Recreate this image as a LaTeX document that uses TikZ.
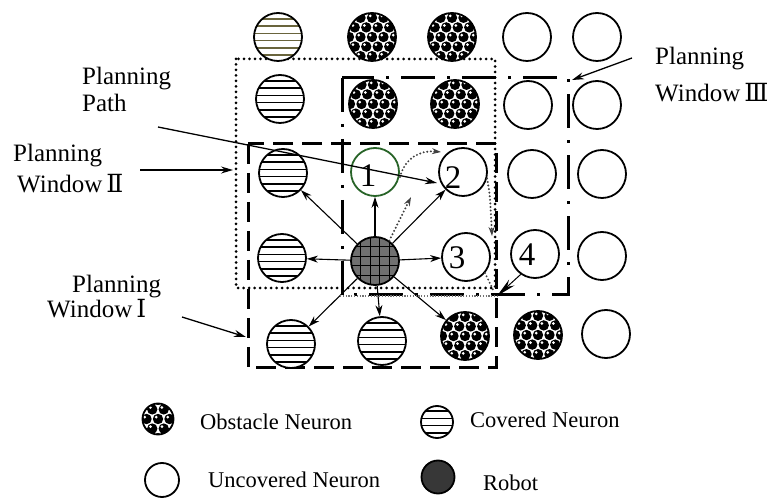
\documentclass[tikz,border=0pt]{standalone}
\usepackage{fontspec}
\setmainfont{Liberation Serif}
\newfontfamily\rnfont{DejaVu Serif}
\usetikzlibrary{arrows.meta}
\definecolor{olivestripe}{RGB}{105,100,60}
\definecolor{robotgray}{RGB}{112,112,112}
\definecolor{legendrobot}{RGB}{55,55,55}
\definecolor{onegreen}{RGB}{40,100,40}
\begin{document}
\begin{tikzpicture}[x=1pt,y=-1pt,
  neuron/.style={circle,draw=black,line width=1.8pt,minimum size=48pt,inner sep=0pt,fill=white},
  uncovered/.style={neuron},
  covered/.style={neuron,path picture={\begin{scope}[shift={(path picture bounding box.center)}]
     \foreach \d in {-18.2,-10.9,-3.6,3.6,10.9,18.2} \draw[line width=1.7pt,draw=#1] (-30,\d) -- (30,\d);
     \end{scope}}},
  covered/.default=black,
  obstacle/.style={neuron,path picture={\begin{scope}[shift={(path picture bounding box.center)}]
     \foreach \j in {-3,...,3}{\foreach \i in {-3,...,3}{
        \pgfmathsetmacro\xx{\i*11.5+mod(abs(\j),2)*5.75}
        \pgfmathsetmacro\yy{\j*9.6}
        \fill[black] (\xx,\yy) circle (5.2pt);
        \fill[white] (\xx-1.8,\yy-1.9) circle (1.5pt);}}
     \end{scope}}},
  robot/.style={neuron,fill=robotgray,path picture={\begin{scope}[shift={(path picture bounding box.center)}]
     \foreach \d in {-14.4,-4.8,4.8,14.4}{\draw[line width=0.9pt] (\d,-30) -- (\d,30); \draw[line width=0.9pt] (-30,\d) -- (30,\d);}
     \end{scope}}},
  digit/.style={font=\fontsize{33}{33}\selectfont,inner sep=0pt},
  lbltext/.style={font=\fontsize{25}{25}\selectfont,inner sep=0pt,anchor=base west},
  legtext/.style={font=\fontsize{22.5}{22.5}\selectfont,inner sep=0pt,anchor=base west},
  winI/.style={line width=3pt,dash pattern=on 20pt off 9pt},
  winII/.style={line width=3pt,dash pattern=on 0pt off 5.5pt,line cap=round},
  winIII/.style={line width=3pt,dash pattern=on 34pt off 12pt on 3pt off 12pt},
  arr/.style={line width=1.1pt,-{Stealth[length=11pt,width=7pt,inset=3.5pt]}},
  lbl/.style={line width=1.3pt,-{Stealth[length=12pt,width=7pt,inset=4pt]}},
  pathdot/.style={line width=2.2pt,dash pattern=on 0pt off 3.6pt,line cap=round,draw=black!75},
  pathtip/.style={-{Stealth[length=9pt,width=6pt]}},
  densedot/.style={line width=2.8pt,dash pattern=on 1.2pt off 1.6pt,draw=black!55}
]
\useasboundingbox (0,0) rectangle (782,502);

% planning windows
\draw[winII] (236,59) rectangle (495,288);
\draw[winI] (248,144) rectangle (496,368);
\draw[winIII] (342,78) rectangle (568,295);

% grid of neurons
\node[covered=olivestripe] (c11) at (278,37) {};
\node[obstacle] (c12) at (372,37) {};
\node[obstacle] (c13) at (452,37) {};
\node[uncovered] (c14) at (527,37) {};
\node[uncovered] (c15) at (597,37) {};

\node[covered] (c21) at (280,99) {};
\node[obstacle] (c22) at (373,104) {};
\node[obstacle] (c23) at (455,104) {};
\node[uncovered] (c24) at (528,105) {};
\node[uncovered] (c25) at (597,105) {};

\node[covered] (c31) at (283,173) {};
\node[uncovered,draw=onegreen] (c32) at (375,172) {};
\node[uncovered] (c33) at (463,172) {};
\node[uncovered] (c34) at (532,174) {};
\node[uncovered] (c35) at (602,174) {};

\node[covered] (c41) at (282,258) {};
\node[robot] (rob) at (375,261) {};
\node[uncovered] (c43) at (466,257) {};
\node[uncovered] (c44) at (535,254) {};
\node[uncovered] (c45) at (602,256) {};

\node[covered] (c51) at (291,344) {};
\node[covered] (c52) at (382,341) {};
\node[obstacle] (c53) at (465,336) {};
\node[obstacle] (c54) at (538,335) {};
\node[uncovered] (c55) at (606,334) {};

% numbers
\node[digit] (n1) at (368,176) {1};
\node[digit] (n2) at (453,178) {2};
\node[digit] (n3) at (457,258) {3};
\node[digit] (n4) at (527,255) {4};

% robot moves
\draw[arr] (rob) -- (c32);
\draw[arr] (rob) -- (c31);
\draw[arr] (rob) -- (c41);
\draw[arr] (rob) -- (c51);
\draw[arr] (rob) -- (c52);
\draw[arr] (rob) -- (c53);
\draw[arr] (rob) -- (c43);
\draw[arr] (rob) -- (c33);

% planning path (dotted)
\coordinate (q1) at (411,197);
\coordinate (q2) at (400,177);
\coordinate (q3) at (441,152);
\coordinate (q4) at (492,236);
\coordinate (q5) at (494,292);
\coordinate (q6) at (497,296);
\coordinate (q7) at (340,296);
\draw[pathdot,pathtip] (rob.55) -- (q1);
\draw[pathdot,pathtip] (q2) .. controls (405,158) and (420,150) .. (q3);
\draw[pathdot,pathtip] (c33.-15) .. controls (490,195) .. (q4);
\draw[pathdot] (c43.-40) -- (q5);
\draw[densedot] (q7) -- (q6);
\draw[line width=1pt,-{Stealth[length=20pt,width=8pt]}] (c44.-125) -- (q6);

% labels
\node[lbltext] (lp1) at (82,85) {Planning};
\node[lbltext] (lp2) at (82,112) {Path};
\node[lbltext] (lw2a) at (13,162) {Planning};
\node[lbltext] (lw2b) at (17,193) {Window\,{\rnfont Ⅱ}};
\node[lbltext] (lw1a) at (72,293) {Planning};
\node[lbltext] (lw1b) at (47,318) {Window\,{\rnfont Ⅰ}};
\node[lbltext] (lw3a) at (655,65) {Planning};
\node[lbltext] (lw3b) at (655,102) {Window\,{\rnfont Ⅲ}};

\coordinate (a0) at (158,127);
\coordinate (a1) at (437,183);
\coordinate (b0) at (140,170);
\coordinate (b1) at (233,170);
\coordinate (e0) at (182,317);
\coordinate (e1) at (246,337);
\coordinate (f0) at (632,58);
\coordinate (f1) at (572,80);
\draw[lbl] (a0) -- (a1);
\draw[lbl] (b0) -- (b1);
\draw[lbl] (e0) -- (e1);
\draw[lbl] (f0) -- (f1);

% legend
\node[obstacle,minimum size=31pt] (lo) at (158,419) {};
\node[legtext] (to) at (200,430) {Obstacle Neuron};
\node[covered,minimum size=32pt] (lc) at (437,422) {};
\node[legtext] (tc) at (470,428) {Covered Neuron};
\node[uncovered,minimum size=34pt] (lu) at (162,480) {};
\node[legtext] (tu) at (208,487) {Uncovered Neuron};
\node[neuron,fill=legendrobot,minimum size=33pt] (lr) at (438,477) {};
\node[legtext] (tr) at (483,490) {Robot};
\end{tikzpicture}
\end{document}
